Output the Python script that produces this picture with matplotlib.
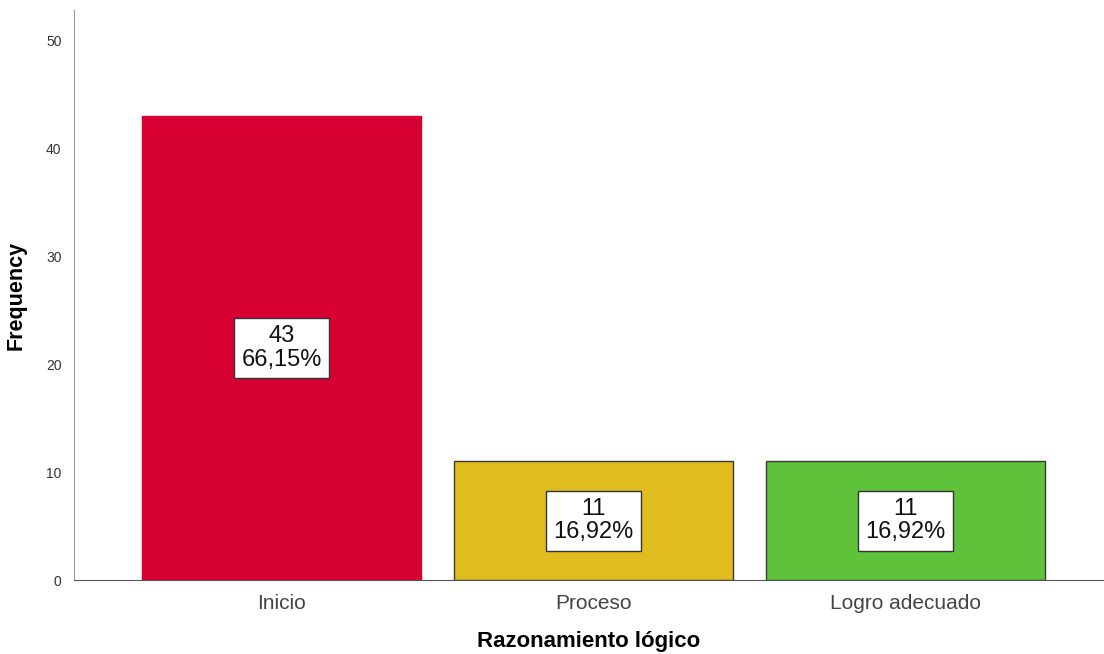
import numpy as np
import matplotlib.pyplot as plt

plt.rcParams['font.family'] = ['Liberation Sans', 'DejaVu Sans']

# frecuencias por nivel
categorias = ['Inicio', 'Proceso', 'Logro adecuado']
frecuencias = [43, 11, 11]
porcentajes = ['66,15%', '16,92%', '16,92%']
colores = ['#D70032', '#E1BC1F', '#5EC33A']
bordes = ['#D70032', '#3a3a3a', '#3a3a3a']

fig = plt.figure(figsize=(11.04, 6.54), dpi=100)
ax = fig.add_axes([74/1104, 1 - 580/654, 1 - 74/1104, 570/654])

x = np.arange(len(categorias))
ax.bar(x, frecuencias, width=0.897, color=colores, edgecolor=bordes, linewidth=1.0)

for xi, f, p in zip(x, frecuencias, porcentajes):
    ax.text(xi, f / 2, f'{f}\n{p}', ha='center', va='center', fontsize=17,
            linespacing=1.1, color='#111111',
            bbox=dict(boxstyle='square,pad=0.3', facecolor='white',
                      edgecolor='#333333', linewidth=1.0))

ax.set_xlim(-0.665, 2.636)
ax.set_ylim(0, 52.8)
ax.set_xticks(x)
ax.set_xticklabels(categorias, fontsize=15, color='#444444')
ax.set_yticks(np.arange(0, 51, 10))
ax.tick_params(axis='y', labelsize=10, colors='#333333', length=0, pad=9)
ax.tick_params(axis='x', length=0, pad=10)

for s in ['top', 'right']:
    ax.spines[s].set_visible(False)
ax.spines['left'].set_color('#999999')
ax.spines['bottom'].set_color('#555555')

ax.set_xlabel('Razonamiento lógico', fontsize=16, fontweight='bold', labelpad=13)
ax.set_ylabel('Frequency', fontsize=15.5, fontweight='bold', labelpad=14)

fig.savefig('out.png', dpi=100)
